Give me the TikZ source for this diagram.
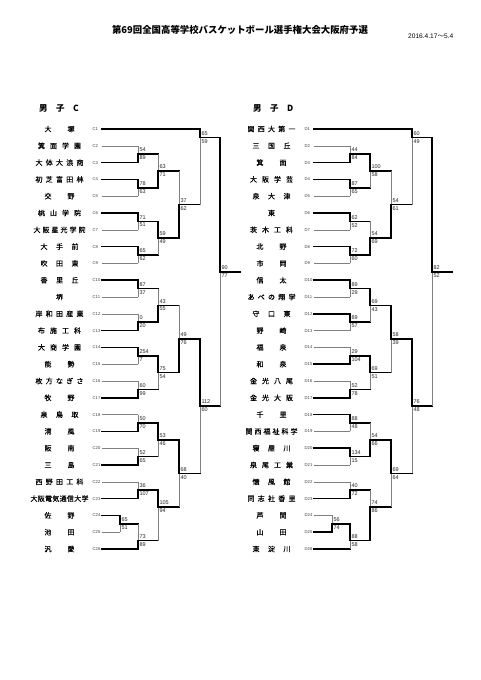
\documentclass[tikz,border=0pt]{standalone}
\usepackage{fontspec}
\setmainfont{Liberation Sans}
\newfontfamily\jp{Noto Sans CJK JP}
\newfontfamily\jpn[FakeBold=0.25]{Noto Sans CJK JP}
\usetikzlibrary{calc}

\makeatletter
\newcount\nmc
\def\cnt@#1{\ifx#1\relax\else\advance\nmc\@ne\expandafter\cnt@\fi}
\def\spra@#1{\ifx#1\relax\else#1\expandafter\sprb@\fi}
\def\sprb@#1{\ifx#1\relax\else\hfil#1\expandafter\sprb@\fi}
\newcommand\spreadname[1]{\nmc=0 \cnt@#1\relax
  \ifcase\nmc\or\hbox{#1}\or\hbox to 30pt{\spra@#1\relax}\or\hbox to 38pt{\spra@#1\relax}\or\hbox to 43pt{\spra@#1\relax}\or\hbox to 48pt{\spra@#1\relax}\or\hbox to 52pt{\spra@#1\relax}\or\hbox to 56pt{\spra@#1\relax}\or\hbox to 58pt{\spra@#1\relax}\fi}
\makeatother

\tikzset{
  win/.style={line width=1.5pt, black, line cap=rect},
  lose/.style={line width=0.6pt, black!50},
  sc/.style={font=\fontsize{5.5}{6}\selectfont, inner sep=0pt, text=black!85},
  code/.style={font=\fontsize{4.2}{4.5}\selectfont, inner sep=0pt, anchor=west, text=black!75},
  tname/.style={font=\jpn\fontsize{7}{8}\selectfont, inner sep=0pt},
  head/.style={font=\jp\bfseries\fontsize{8.5}{9}\selectfont, inner sep=0pt, anchor=west},
}

% #1 match, #2 top source, #3 bottom source, #4/#5 horizontal styles, #6/#7 vertical styles, #8/#9 scores
\newcommand\bout[9]{%
  \draw[#5] (#3) -- (#3 -| #1);
  \draw[#4] (#2) -- (#2 -| #1);
  \draw[#7] (#3 -| #1) -- (#1);
  \draw[#6] (#2 -| #1) -- (#1);
  \node[sc, anchor=base west] (#1-t) at ([xshift=1.3pt,yshift=2.4pt]#1) {#8};
  \node[sc, anchor=north west] (#1-b) at ([xshift=1.3pt,yshift=-1.6pt]#1) {#9};
}

\newcommand\grid[1]{%
  \coordinate (#1A) at (138,154.2);
  \coordinate (#1B) at (138,187.8);
  \coordinate (#1C) at (138,221.4);
  \coordinate (#1D) at (138,255.0);
  \coordinate (#1E) at (138,288.6);
  \coordinate (#1F) at (138,322.2);
  \coordinate (#1G) at (138,355.8);
  \coordinate (#1H) at (138,389.4);
  \coordinate (#1I) at (138,423.0);
  \coordinate (#1J) at (138,456.6);
  \coordinate (#1K) at (138,490.2);
  \coordinate (#1L) at (120,523.8);
  \coordinate (#1M) at (138,540.6);
  \coordinate (#1N) at (158,171.0);
  \coordinate (#1O) at (158,238.2);
  \coordinate (#1P) at (158,305.4);
  \coordinate (#1Q) at (158,372.6);
  \coordinate (#1R) at (158,439.8);
  \coordinate (#1S) at (158,507.0);
  \coordinate (#1T) at (179,204.6);
  \coordinate (#1U) at (179,339.0);
  \coordinate (#1V) at (179,473.4);
  \coordinate (#1W) at (200,137.4);
  \coordinate (#1X) at (200,406.2);
  \coordinate (#1Y) at (220,271.8);
  \coordinate (#1Z) at (240,271.8);
}

\begin{document}
\begin{tikzpicture}[x=1pt,y=-1pt]
\fill[white] (0,0) rectangle (481,680);
\useasboundingbox (0,0) rectangle (481,680);

\node[font=\jp\bfseries\fontsize{9.4}{10}\selectfont, inner sep=0pt] (title) at (240,30) {第69回全国高等学校バスケットボール選手権大会大阪府予選};
\node[font=\fontsize{6.6}{7}\selectfont, anchor=west, inner sep=0pt] (date) at (408,36) {2016.4.17{\jp ～}5.4};

\node[head] (hC) at (39,108) {男\quad 子\quad C};
\node[head] (hD) at (253,108) {男\quad 子\quad D};

% ---------- left block (C) ----------
\grid{c}
\foreach \k/\tn in {1/大塚,2/箕面学園,3/大体大浪商,4/初芝富田林,5/交野,6/桃山学院,7/大阪星光学院,8/大手前,9/吹田東,10/香里丘,11/堺,12/岸和田産業,13/布施工科,14/大商学園,15/能勢,16/枚方なぎさ,17/牧野,18/泉鳥取,19/清風,20/阪南,21/三島,22/西野田工科,23/大阪電気通信大学,24/佐野,25/池田,26/汎愛}{
  \coordinate (C\k) at (102,{129+(\k-1)*16.8});
  \node[tname] (nC\k) at (59.5,{129+(\k-1)*16.8}) {\expandafter\spreadname\expandafter{\tn}};
  \node[code] (kC\k) at (92.5,{129+(\k-1)*16.8}) {C\k};
}

\bout{cA}{C2}{C3}{lose}{win}{lose}{win}{54}{89}
\bout{cB}{C4}{C5}{win}{lose}{win}{lose}{78}{63}
\bout{cC}{C6}{C7}{win}{lose}{win}{lose}{71}{51}
\bout{cD}{C8}{C9}{win}{lose}{win}{lose}{65}{62}
\bout{cE}{C10}{C11}{win}{lose}{win}{lose}{87}{37}
\bout{cF}{C12}{C13}{lose}{win}{lose}{win}{0}{20}
\bout{cG}{C14}{C15}{win}{lose}{win}{lose}{254}{7}
\bout{cH}{C16}{C17}{lose}{win}{lose}{win}{60}{99}
\bout{cI}{C18}{C19}{lose}{win}{lose}{win}{50}{70}
\bout{cJ}{C20}{C21}{lose}{win}{lose}{win}{52}{65}
\bout{cK}{C22}{C23}{lose}{win}{lose}{win}{36}{107}
\bout{cL}{C24}{C25}{win}{lose}{win}{lose}{65}{51}
\bout{cM}{cL}{C26}{win}{win}{lose}{win}{73}{89}
\bout{cN}{cA}{cB}{win}{win}{lose}{win}{63}{71}
\bout{cO}{cC}{cD}{win}{win}{win}{lose}{59}{49}
\bout{cP}{cE}{cF}{win}{win}{lose}{win}{43}{55}
\bout{cQ}{cG}{cH}{win}{win}{win}{lose}{75}{54}
\bout{cR}{cI}{cJ}{win}{win}{win}{lose}{53}{46}
\bout{cS}{cK}{cM}{win}{win}{win}{lose}{105}{94}
\bout{cT}{cN}{cO}{win}{win}{lose}{win}{37}{62}
\bout{cU}{cP}{cQ}{win}{win}{lose}{win}{49}{76}
\bout{cV}{cR}{cS}{win}{win}{win}{lose}{68}{40}
\bout{cW}{C1}{cT}{win}{win}{win}{lose}{65}{59}
\bout{cX}{cU}{cV}{win}{win}{win}{lose}{112}{60}
\bout{cY}{cW}{cX}{win}{win}{win}{lose}{90}{77}
\draw[win] (cY) -- (cZ);

% ---------- right block (D) ----------
\begin{scope}[xshift=212pt]
\grid{d}
\foreach \k/\tn in {1/関西大第一,2/三国丘,3/箕面,4/大阪学芸,5/泉大津,6/東,7/茨木工科,8/北野,9/市岡,10/信太,11/あべの翔学,12/守口東,13/野崎,14/福泉,15/和泉,16/金光八尾,17/金光大阪,18/千里,19/関西福祉科学,20/寝屋川,21/泉尾工業,22/懐風館,23/同志社香里,24/芦間,25/山田,26/東淀川}{
  \coordinate (D\k) at (102,{129+(\k-1)*16.8});
  \node[tname] (nD\k) at (59.5,{129+(\k-1)*16.8}) {\expandafter\spreadname\expandafter{\tn}};
  \node[code] (kD\k) at (92.5,{129+(\k-1)*16.8}) {D\k};
}
\end{scope}

\bout{dA}{D2}{D3}{lose}{win}{lose}{win}{44}{84}
\bout{dB}{D4}{D5}{win}{lose}{win}{lose}{87}{65}
\bout{dC}{D6}{D7}{win}{lose}{win}{lose}{62}{52}
\bout{dD}{D8}{D9}{win}{lose}{win}{lose}{72}{60}
\bout{dE}{D10}{D11}{win}{lose}{win}{lose}{89}{29}
\bout{dF}{D12}{D13}{win}{lose}{win}{lose}{89}{57}
\bout{dG}{D14}{D15}{lose}{win}{lose}{win}{29}{104}
\bout{dH}{D16}{D17}{lose}{win}{lose}{win}{52}{78}
\bout{dI}{D18}{D19}{win}{lose}{win}{lose}{88}{48}
\bout{dJ}{D20}{D21}{win}{lose}{win}{lose}{134}{15}
\bout{dK}{D22}{D23}{lose}{win}{lose}{win}{40}{72}
\bout{dL}{D24}{D25}{lose}{win}{lose}{win}{56}{74}
\bout{dM}{dL}{D26}{win}{win}{win}{lose}{88}{58}
\bout{dN}{dA}{dB}{win}{win}{win}{lose}{100}{58}
\bout{dO}{dC}{dD}{win}{win}{lose}{win}{54}{69}
\bout{dP}{dE}{dF}{win}{win}{win}{lose}{69}{43}
\bout{dQ}{dG}{dH}{win}{win}{win}{lose}{69}{51}
\bout{dR}{dI}{dJ}{win}{win}{lose}{win}{54}{66}
\bout{dS}{dK}{dM}{win}{win}{lose}{win}{74}{86}
\bout{dT}{dN}{dO}{win}{win}{lose}{win}{54}{61}
\bout{dU}{dP}{dQ}{win}{win}{win}{lose}{58}{39}
\bout{dV}{dR}{dS}{win}{win}{win}{lose}{69}{64}
\bout{dW}{D1}{dT}{win}{win}{win}{lose}{60}{49}
\bout{dX}{dU}{dV}{win}{win}{win}{lose}{76}{48}
\bout{dY}{dW}{dX}{win}{win}{win}{lose}{82}{52}
\draw[win] (dY) -- (dZ);
\end{tikzpicture}
\end{document}
